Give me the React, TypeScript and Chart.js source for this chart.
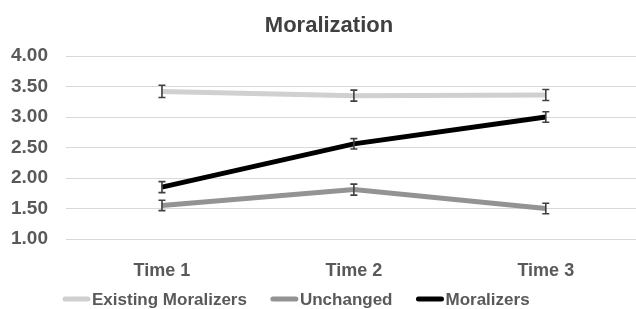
import React, { useEffect, useRef } from "react";
import { Chart, registerables } from "chart.js";

Chart.register(...registerables);

const title = "Moralization";
const categories = ["Time 1", "Time 2", "Time 3"];
const seriesNames = ["Existing Moralizers", "Unchanged", "Moralizers"];
const existing = [3.42, 3.35, 3.36];
const existingErr = [0.1, 0.09, 0.09];
const unchanged = [1.55, 1.81, 1.5];
const unchangedErr = [0.085, 0.09, 0.085];
const moralizers = [1.85, 2.56, 3.0];
const moralizersErr = [0.09, 0.085, 0.085];
const yTicks = [1, 1.5, 2, 2.5, 3, 3.5, 4];

const FONT = "'Liberation Sans', Arial, sans-serif";

export default function App() {
  const ref = useRef<HTMLCanvasElement | null>(null);

  useEffect(() => {
    if (!ref.current) return;
    const errs = [existingErr, unchangedErr, moralizersErr];

    const errorBars = {
      id: "errorBars",
      afterDatasetsDraw(chart: any) {
        const ctx = chart.ctx;
        const xs = chart.scales.x;
        const ys = chart.scales.y;
        ctx.save();
        ctx.strokeStyle = "#404040";
        ctx.lineWidth = 1.6;
        chart.data.datasets.forEach((ds: any, di: number) => {
          ds.data.forEach((p: any, i: number) => {
            const e = errs[di][i];
            const x = xs.getPixelForValue(p.x);
            const y1 = ys.getPixelForValue(p.y + e);
            const y2 = ys.getPixelForValue(p.y - e);
            ctx.beginPath();
            ctx.moveTo(x, y1);
            ctx.lineTo(x, y2);
            ctx.moveTo(x - 3.5, y1);
            ctx.lineTo(x + 3.5, y1);
            ctx.moveTo(x - 3.5, y2);
            ctx.lineTo(x + 3.5, y2);
            ctx.stroke();
          });
        });
        ctx.restore();
      },
    };

    const titleAndLegend = {
      id: "titleAndLegend",
      afterDraw(chart: any) {
        const ctx = chart.ctx;
        ctx.save();
        ctx.fillStyle = "#404040";
        ctx.font = `bold 22px ${FONT}`;
        ctx.textAlign = "center";
        ctx.textBaseline = "alphabetic";
        ctx.fillText(title, 329, 32);

        ctx.font = `bold 17px ${FONT}`;
        ctx.textAlign = "left";
        let x = 63;
        const y = 299;
        chart.data.datasets.forEach((ds: any) => {
          ctx.strokeStyle = ds.borderColor;
          ctx.lineWidth = 5;
          ctx.lineCap = "round";
          ctx.beginPath();
          ctx.moveTo(x + 2, y);
          ctx.lineTo(x + 25, y);
          ctx.stroke();
          ctx.fillStyle = "#595959";
          ctx.fillText(ds.label, x + 29, y + 6);
          x += 29 + ctx.measureText(ds.label).width + 24;
        });
        ctx.restore();
      },
    };

    const mk = (vals: number[]) => vals.map((v, i) => ({ x: i, y: v }));

    const chart = new Chart(ref.current, {
      type: "line",
      data: {
        datasets: [
          { label: seriesNames[0], data: mk(existing), borderColor: "#d0d0d0", borderWidth: 5, pointRadius: 0, tension: 0 },
          { label: seriesNames[1], data: mk(unchanged), borderColor: "#939393", borderWidth: 5, pointRadius: 0, tension: 0 },
          { label: seriesNames[2], data: mk(moralizers), borderColor: "#000000", borderWidth: 5, pointRadius: 0, tension: 0 },
        ],
      },
      options: {
        animation: false,
        responsive: false,
        devicePixelRatio: 1,
        layout: { padding: { top: 56, left: 0, right: 0, bottom: 0 } },
        plugins: { legend: { display: false }, title: { display: false }, tooltip: { enabled: false } },
        scales: {
          x: {
            type: "linear",
            min: -0.5,
            max: 2.47,
            grid: { display: false },
            border: { display: false },
            afterBuildTicks: (s: any) => {
              s.ticks = categories.map((_, i) => ({ value: i }));
            },
            afterFit: (s: any) => {
              s.height = 70;
            },
            ticks: {
              padding: 13,
              color: "#595959",
              font: { family: FONT, size: 18, weight: "bold" },
              callback: (v: any) => categories[v] ?? "",
            },
          },
          y: {
            min: 1,
            max: 4,
            grid: { color: "#d9d9d9", lineWidth: 1, drawTicks: false },
            border: { display: false },
            afterBuildTicks: (s: any) => {
              s.ticks = yTicks.map((v) => ({ value: v }));
            },
            afterFit: (s: any) => {
              s.width = 66;
            },
            ticks: {
              padding: 18,
              color: "#595959",
              font: { family: FONT, size: 19, weight: "bold" },
              callback: (v: any) => Number(v).toFixed(2),
            },
          },
        },
      },
      plugins: [errorBars, titleAndLegend],
    } as any);
    return () => chart.destroy();
  }, []);

  return (
    <div style={{ position: "fixed", left: 0, top: 0, width: 636, height: 309, background: "#fff" }}>
      <canvas ref={ref} width={636} height={309} style={{ display: "block" }} />
    </div>
  );
}
